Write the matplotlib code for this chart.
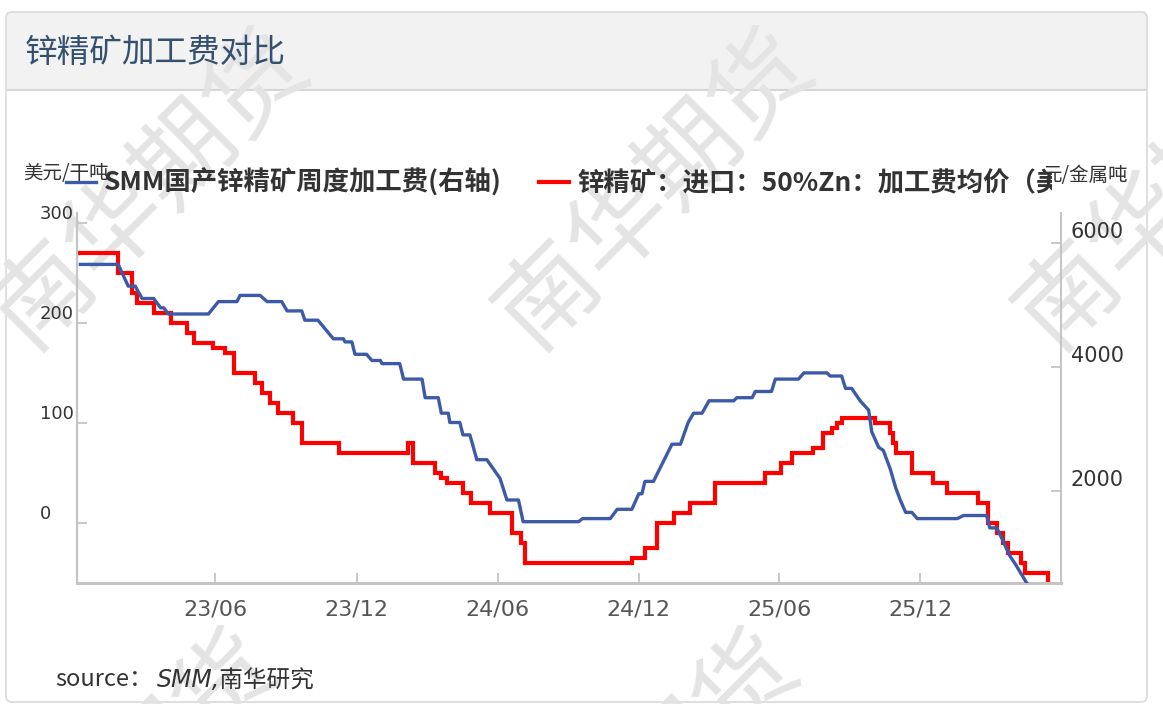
import matplotlib
matplotlib.use("Agg")
import matplotlib.pyplot as plt
import pandas as pd
from matplotlib.lines import Line2D
from matplotlib.patches import FancyBboxPatch, Rectangle
from matplotlib.transforms import Bbox, TransformedBbox, ScaledTranslation, IdentityTransform

plt.rcParams['font.family'] = ['Noto Sans CJK SC', 'DejaVu Sans']

W, H = 1163, 704

# ---- data ----
title = "锌精矿加工费对比"
blue_label = "SMM国产锌精矿周度加工费(右轴)"
red_label = "锌精矿：进口：50%Zn：加工费均价（美元/干吨）"
left_unit = "美元/干吨"
right_unit = "元/金属吨"
source_head = "source："
source_body = "SMM,南华研究"
watermark = "南华期货"

x_ticks = ["2023-06-01", "2023-12-01", "2024-06-01", "2024-12-01", "2025-06-01", "2025-12-01"]
x_tick_labels = ["23/06", "23/12", "24/06", "24/12", "25/06", "25/12"]
left_ticks = [0, 100, 200, 300]
right_ticks = [2000, 4000, 6000]

# imported TC, USD/dmt (left axis), step series
red_dates = ["2022-12-04", "2023-01-26", "2023-02-13", "2023-02-19", "2023-03-13", "2023-04-04",
             "2023-04-25", "2023-05-04", "2023-05-29", "2023-06-14", "2023-06-25", "2023-07-22",
             "2023-08-01", "2023-08-11", "2023-08-21", "2023-09-10", "2023-09-21", "2023-11-08",
             "2024-02-06", "2024-02-12", "2024-03-12", "2024-03-20", "2024-03-27", "2024-04-17",
             "2024-04-27", "2024-05-22", "2024-06-19", "2024-07-01", "2024-07-07", "2024-11-22",
             "2024-12-09", "2024-12-24", "2025-01-15", "2025-02-05", "2025-03-10", "2025-05-13",
             "2025-06-04", "2025-06-17", "2025-07-15", "2025-07-28", "2025-08-08", "2025-08-15",
             "2025-08-21", "2025-10-03", "2025-10-23", "2025-10-26", "2025-10-30", "2025-11-20",
             "2025-12-18", "2026-01-05", "2026-02-14", "2026-02-27", "2026-03-10", "2026-03-18",
             "2026-03-25", "2026-04-11", "2026-04-16", "2026-05-15", "2026-05-18"]
red_values = [270, 250, 230, 220, 210, 200,
              190, 180, 175, 170, 150, 140,
              130, 120, 110, 100, 80, 70,
              80, 60, 50, 45, 40, 30,
              20, 10, -10, -20, -40, -35,
              -25, 0, 10, 20, 40, 50,
              60, 70, 75, 90, 95, 100,
              105, 100, 90, 80, 70, 50,
              40, 30, 20, 0, -10, -20,
              -30, -40, -50, -65, -65]

# domestic weekly TC, yuan/metal ton (right axis)
blue_dates = ["2022-12-08", "2023-01-26", "2023-02-08", "2023-02-17", "2023-02-26", "2023-03-13",
              "2023-03-22", "2023-03-26", "2023-04-01", "2023-05-23", "2023-06-05", "2023-06-29",
              "2023-07-03", "2023-07-29", "2023-08-07", "2023-08-26", "2023-09-02", "2023-09-21",
              "2023-09-25", "2023-10-12", "2023-11-01", "2023-11-14", "2023-11-16", "2023-11-25",
              "2023-11-29", "2023-12-14", "2023-12-21", "2024-01-01", "2024-01-03", "2024-01-26",
              "2024-01-31", "2024-02-24", "2024-02-28", "2024-03-16", "2024-03-20", "2024-03-29",
              "2024-03-31", "2024-04-13", "2024-04-17", "2024-04-26", "2024-05-05", "2024-05-18",
              "2024-06-04", "2024-06-13", "2024-06-28", "2024-07-04", "2024-09-14", "2024-09-19",
              "2024-10-25", "2024-11-03", "2024-11-22", "2024-12-01", "2024-12-05", "2024-12-09",
              "2024-12-20", "2024-12-26", "2025-01-03", "2025-01-13", "2025-01-24", "2025-02-03",
              "2025-02-10", "2025-02-21", "2025-03-02", "2025-04-03", "2025-04-07", "2025-04-27",
              "2025-05-01", "2025-05-22", "2025-05-27", "2025-06-26", "2025-07-03", "2025-08-02",
              "2025-08-06", "2025-08-21", "2025-08-26", "2025-09-03", "2025-09-14", "2025-09-25",
              "2025-09-29", "2025-10-08", "2025-10-14", "2025-10-23", "2025-10-30", "2025-11-05",
              "2025-11-12", "2025-11-20", "2025-11-27", "2026-01-18", "2026-01-26", "2026-02-25",
              "2026-03-01", "2026-03-10", "2026-03-16", "2026-03-27", "2026-04-04", "2026-04-17",
              "2026-04-24"]
blue_values = [5650, 5650, 5300, 5300, 5100, 5100,
               4950, 4950, 4850, 4850, 5050, 5050,
               5150, 5150, 5050, 5050, 4900, 4900,
               4750, 4750, 4450, 4450, 4400, 4400,
               4200, 4200, 4100, 4100, 4050, 4050,
               3800, 3800, 3500, 3500, 3250, 3250,
               3100, 3100, 2900, 2900, 2500, 2500,
               2200, 1850, 1850, 1500, 1500, 1550,
               1550, 1700, 1700, 1950, 1950, 2150,
               2150, 2300, 2500, 2750, 2750, 3100,
               3250, 3250, 3450, 3450, 3500, 3500,
               3600, 3600, 3800, 3800, 3900, 3900,
               3850, 3850, 3650, 3650, 3450, 3300,
               2950, 2700, 2650, 2350, 2050, 1850,
               1650, 1650, 1550, 1550, 1600, 1600,
               1400, 1400, 1250, 950, 800, 530,
               400]

x_range = ["2022-12-04", "2026-06-01"]
left_range = (-60, 310)
right_range = (516, 6484)


def fx(px):
    return px / W


def fy(py):
    return 1 - py / H


fig = plt.figure(figsize=(W / 100, H / 100), dpi=100)

# card with grey header band
card = FancyBboxPatch((6, 2), 1141, 690, boxstyle="round,pad=0,rounding_size=6",
                      transform=IdentityTransform(), facecolor="white", edgecolor="none", zorder=-5)
fig.add_artist(card)
fig.add_artist(Rectangle((7, H - 90), 1139, 78, transform=IdentityTransform(),
                         facecolor="#f2f2f2", edgecolor="none", zorder=-4))
fig.add_artist(Line2D([fx(7), fx(1146)], [fy(90), fy(90)], transform=fig.transFigure,
                      color="#d6d6d6", lw=1.5, zorder=-4))
fig.add_artist(FancyBboxPatch((6, 2), 1141, 690, boxstyle="round,pad=0,rounding_size=6",
                              transform=IdentityTransform(), facecolor="none",
                              edgecolor="#dcdcdc", lw=1.3, zorder=-3))

# watermark
for cx, cy in [(150, 190), (655, 190), (1175, 190), (120, 790), (640, 790)]:
    fig.text(fx(cx), fy(cy), watermark, rotation=45, fontsize=72, color="#e4e4e4",
             weight="medium", ha="center", va="center", rotation_mode="anchor", zorder=-2)

fig.text(fx(25), fy(53), title, fontsize=23.5, color="#34506f", va="center")

ax = fig.add_axes([fx(77.3), fy(582.7), (1060.7 - 77.3) / W, (582.7 - 212.7) / H])
ax2 = ax.twinx()
for a in (ax, ax2):
    a.patch.set_visible(False)

red_x = pd.to_datetime(red_dates)
blue_x = pd.to_datetime(blue_dates)
ax.plot(red_x, red_values, color="#ff0000", lw=3.0, drawstyle="steps-post",
        solid_joinstyle="miter")
ax2.plot(blue_x, blue_values, color="#3c5aa8", lw=2.4, solid_joinstyle="round")

ax.set_xlim(pd.to_datetime(x_range[0]), pd.to_datetime(x_range[1]))
ax.set_ylim(*left_range)
ax2.set_ylim(*right_range)

ax.set_xticks(pd.to_datetime(x_ticks))
ax.set_xticklabels(x_tick_labels, family=["Liberation Sans Narrow", "DejaVu Sans"],
                   fontsize=16, color="#555555")
ax.set_yticks(left_ticks)
ax.set_yticklabels([str(v) for v in left_ticks], family="DejaVu Sans", fontsize=13, color="#333333")
ax2.set_yticks(right_ticks)
ax2.set_yticklabels([str(v) for v in right_ticks], family="DejaVu Sans", fontsize=15, color="#333333")

grey = "#c4c4c4"
ax.tick_params(axis="x", direction="in", length=7.5, width=1.3, color=grey, pad=12)
ax.tick_params(axis="y", direction="in", length=7.5, width=1.3, color=grey, pad=26.9)
ax2.tick_params(axis="y", direction="in", length=7.5, width=1.3, color=grey, pad=7.4)

for sp in ("top", "right"):
    ax.spines[sp].set_visible(False)
for sp in ("top", "left", "bottom"):
    ax2.spines[sp].set_visible(False)
ax.spines["left"].set_color(grey)
ax.spines["left"].set_linewidth(1.6)
ax.spines["bottom"].set_color(grey)
ax.spines["bottom"].set_linewidth(2.2)
ax2.spines["right"].set_color(grey)
ax2.spines["right"].set_linewidth(1.4)

up_left = ScaledTranslation(0, 0.11, fig.dpi_scale_trans)
for lbl in ax.get_yticklabels():
    lbl.set_horizontalalignment("left")
    lbl.set_transform(lbl.get_transform() + up_left)
up_right = ScaledTranslation(0, 0.125, fig.dpi_scale_trans)
for lbl in ax2.get_yticklabels():
    lbl.set_transform(lbl.get_transform() + up_right)

# axis units
fig.text(fx(23), fy(173), left_unit, fontsize=14, color="#333333", va="center")
fig.text(fx(1128), fy(175), right_unit, fontsize=14, color="#333333", va="center", ha="right")

# legend across the top
handles = [Line2D([], [], color="#3c5aa8", lw=2.4), Line2D([], [], color="#ff0000", lw=3.0)]
leg = fig.legend(handles, [blue_label, red_label], loc="center left",
                 bbox_to_anchor=(fx(66), fy(183)), ncol=2, frameon=False,
                 prop={"family": ["Noto Sans CJK SC", "DejaVu Sans"], "weight": "bold", "size": 19},
                 labelcolor="#333333", handlelength=1.15, handletextpad=0.3, columnspacing=1.4,
                 borderpad=0, borderaxespad=0)
clip = TransformedBbox(Bbox.from_extents(0, 0, fx(1052), 1), fig.transFigure)
leg.get_texts()[1].set_clip_box(clip)
leg.get_texts()[1].set_clip_on(True)

# source line
src = fig.text(fx(55), fy(680), source_head, fontsize=17, color="#333333", va="center")
ax.annotate(source_body, xy=(1, 0.5), xycoords=src, xytext=(3, 0), textcoords="offset points",
            va="center", fontsize=17, color="#333333", style="italic",
            family=["DejaVu Sans", "Noto Sans CJK SC"], annotation_clip=False)

fig.savefig("out.png", dpi=100)
